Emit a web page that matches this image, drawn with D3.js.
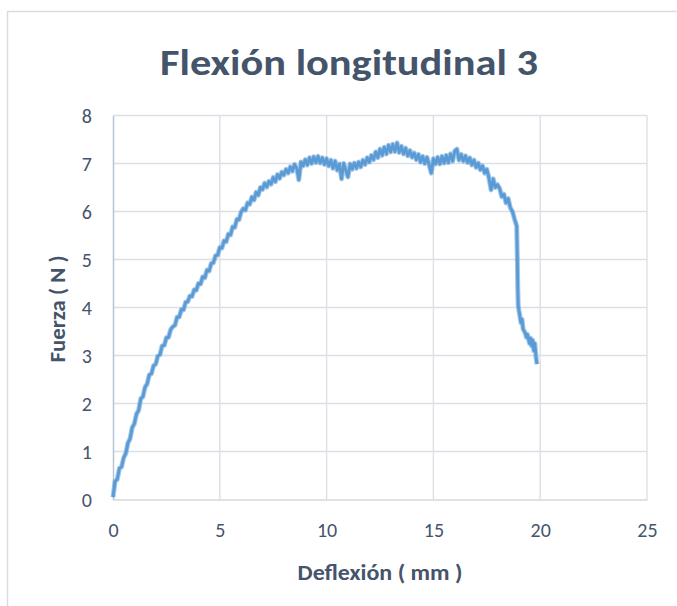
<!DOCTYPE html>
<html>
<head>
<meta charset="utf-8">
<script src="https://cdn.jsdelivr.net/npm/d3@7"></script>
<style>
  html, body { margin: 0; padding: 0; background: #ffffff; }
  svg { display: block; }
  text { font-family: Calibri, Carlito, Lato, "Noto Sans", sans-serif; fill: #44546A; }
</style>
</head>
<body>
<svg id="chart" width="677" height="606"></svg>
<script>
// Flexión longitudinal 3 — ensayo de flexión, fuerza frente a deflexión
const chartTitle = "Flexión longitudinal 3";
const xTitle = "Deflexión ( mm )";
const yTitle = "Fuerza ( N )";
const xTicks = [0, 5, 10, 15, 20, 25];
const yTicks = [0, 1, 2, 3, 4, 5, 6, 7, 8];

// Deflexión (mm)
const deflexion = [
  0.0, 0.1, 0.2, 0.3, 0.4, 0.5, 0.6, 0.7, 0.8, 0.9,
  1.0, 1.1, 1.2, 1.3, 1.4, 1.5, 1.6, 1.7, 1.8, 1.9,
  2.0, 2.1, 2.2, 2.3, 2.4, 2.5, 2.6, 2.7, 2.8, 2.9,
  3.0, 3.1, 3.2, 3.3, 3.4, 3.5, 3.6, 3.7, 3.8, 3.9,
  4.0, 4.1, 4.2, 4.3, 4.4, 4.5, 4.6, 4.7, 4.8, 4.9,
  5.0, 5.1, 5.2, 5.3, 5.4, 5.5, 5.6, 5.7, 5.8, 5.9,
  6.0, 6.1, 6.2, 6.3, 6.4, 6.5, 6.6, 6.7, 6.8, 6.9,
  7.0, 7.1, 7.2, 7.3, 7.4, 7.5, 7.6, 7.7, 7.8, 7.9,
  8.0, 8.1, 8.2, 8.3, 8.4, 8.5, 8.6, 8.7, 8.8, 8.9,
  9.0, 9.1, 9.2, 9.3, 9.4, 9.5, 9.6, 9.7, 9.8, 9.9,
  10.0, 10.1, 10.2, 10.3, 10.4, 10.5, 10.6, 10.7, 10.8, 10.9,
  11.0, 11.1, 11.2, 11.3, 11.4, 11.5, 11.6, 11.7, 11.8, 11.9,
  12.0, 12.1, 12.2, 12.3, 12.4, 12.5, 12.6, 12.7, 12.8, 12.9,
  13.0, 13.1, 13.2, 13.3, 13.4, 13.5, 13.6, 13.7, 13.8, 13.9,
  14.0, 14.1, 14.2, 14.3, 14.4, 14.5, 14.6, 14.7, 14.8, 14.9,
  15.0, 15.1, 15.2, 15.3, 15.4, 15.5, 15.6, 15.7, 15.8, 15.9,
  16.0, 16.1, 16.2, 16.3, 16.4, 16.5, 16.6, 16.7, 16.8, 16.9,
  17.0, 17.1, 17.2, 17.3, 17.4, 17.5, 17.6, 17.7, 17.8, 17.9,
  18.0, 18.1, 18.2, 18.3, 18.4, 18.5, 18.6, 18.7, 18.8, 18.9,
  18.93, 18.95, 18.97, 19.0, 19.05, 19.1, 19.15, 19.2, 19.3, 19.35,
  19.4, 19.5, 19.55, 19.6, 19.65, 19.7, 19.75, 19.8, 19.85
];

// Fuerza (N)
const fuerza = [
  0.05, 0.38, 0.42, 0.65, 0.68, 0.87, 0.96, 1.18, 1.27, 1.50,
  1.58, 1.78, 1.86, 2.10, 2.14, 2.34, 2.41, 2.60, 2.62, 2.79,
  2.82, 2.99, 3.02, 3.20, 3.21, 3.37, 3.38, 3.54, 3.60, 3.63,
  3.80, 3.80, 3.96, 3.95, 4.11, 4.12, 4.24, 4.23, 4.37, 4.36,
  4.50, 4.49, 4.64, 4.62, 4.78, 4.76, 4.92, 4.93, 5.08, 5.09,
  5.25, 5.24, 5.39, 5.37, 5.53, 5.51, 5.68, 5.67, 5.84, 5.83,
  5.99, 6.06, 6.03, 6.18, 6.15, 6.30, 6.24, 6.40, 6.34, 6.50,
  6.46, 6.59, 6.51, 6.63, 6.57, 6.71, 6.62, 6.77, 6.69, 6.82,
  6.76, 6.88, 6.80, 6.93, 6.84, 6.98, 6.90, 6.66, 7.03, 6.95,
  7.08, 6.97, 7.12, 7.00, 7.14, 7.02, 7.15, 7.01, 7.12, 6.98,
  7.10, 6.95, 7.07, 6.90, 7.05, 6.86, 6.99, 6.68, 7.00, 6.86,
  6.72, 6.99, 6.88, 7.01, 6.90, 7.03, 6.93, 7.07, 6.98, 7.12,
  7.03, 7.17, 7.08, 7.24, 7.12, 7.30, 7.17, 7.34, 7.20, 7.38,
  7.24, 7.40, 7.25, 7.43, 7.23, 7.36, 7.20, 7.32, 7.16, 7.27,
  7.13, 7.22, 7.08, 7.19, 7.03, 7.15, 7.00, 7.13, 6.97, 6.80,
  7.10, 6.99, 7.13, 6.99, 7.15, 7.01, 7.17, 7.02, 7.20, 7.05,
  7.26, 7.30, 7.07, 7.19, 7.05, 7.16, 7.02, 7.12, 6.97, 7.07,
  6.92, 7.01, 6.87, 6.95, 6.80, 6.88, 6.70, 6.45, 6.68, 6.50,
  6.56, 6.48, 6.31, 6.36, 6.18, 6.27, 6.08, 6.00, 5.84, 5.70,
  5.00, 4.40, 4.05, 3.95, 3.82, 3.68, 3.75, 3.55, 3.47, 3.38,
  3.44, 3.25, 3.36, 3.20, 3.32, 3.10, 3.25, 2.98, 2.82
];

const svg = d3.select("#chart");
const W = 677, H = 606;
const margin = { left: 113, right: 30, top: 115.5, bottom: 106.5 };
const fontStack = "Calibri, Carlito, Lato, sans-serif";

// Chart area frame (extends past the right and bottom edges)
svg.append("rect")
  .attr("x", 7.5).attr("y", 11.5)
  .attr("width", 720).attr("height", 640)
  .attr("fill", "#ffffff")
  .attr("stroke", "#D9DDE3")
  .attr("stroke-width", 1.5);

const x = d3.scaleLinear().domain([0, 25]).range([margin.left, W - margin.right]);
const y = d3.scaleLinear().domain([0, 8]).range([H - margin.bottom, margin.top]);

// Gridlines
const grid = svg.append("g").attr("class", "grid");
grid.selectAll("line.h")
  .data(yTicks.filter(d => d > 0))
  .join("line")
  .attr("class", "h")
  .attr("x1", x(0)).attr("x2", x(25))
  .attr("y1", d => y(d)).attr("y2", d => y(d))
  .attr("stroke", "#DCE0E6").attr("stroke-width", 1.4);
grid.selectAll("line.v")
  .data(xTicks.filter(d => d > 0))
  .join("line")
  .attr("class", "v")
  .attr("y1", y(0)).attr("y2", y(8))
  .attr("x1", d => x(d)).attr("x2", d => x(d))
  .attr("stroke", "#DCE0E6").attr("stroke-width", 1.4);

// Axes
const xAxis = svg.append("g")
  .attr("transform", `translate(0,${y(0)})`)
  .call(d3.axisBottom(x).tickValues(xTicks).tickSize(0).tickPadding(23));
xAxis.select(".domain").attr("stroke", "#D3D8DF").attr("stroke-width", 1.4);
xAxis.selectAll(".tick text")
  .attr("font-size", 20)
  .style("font-family", fontStack)
  .attr("fill", "#44546A");

const yAxis = svg.append("g")
  .attr("transform", `translate(${x(0)},0)`)
  .call(d3.axisLeft(y).tickValues(yTicks).tickSize(0).tickPadding(21));
yAxis.select(".domain").attr("stroke", "#B9C4D3").attr("stroke-width", 1.5);
yAxis.selectAll(".tick text")
  .attr("font-size", 20)
  .attr("dy", "0.36em")
  .style("font-family", fontStack)
  .attr("fill", "#44546A");

// Data line: a soft wide pass under a firmer core gives the noisy trace its body
const points = deflexion.map((d, i) => [d, fuerza[i]]);
const line = d3.line().x(d => x(d[0])).y(d => y(d[1]));
svg.append("path")
  .datum(points)
  .attr("d", line)
  .attr("fill", "none")
  .attr("stroke", "#5B9BD5")
  .attr("stroke-opacity", 0.55)
  .attr("stroke-width", 5)
  .attr("stroke-linejoin", "round");
svg.append("path")
  .datum(points)
  .attr("d", line)
  .attr("fill", "none")
  .attr("stroke", "#5B9BD5")
  .attr("stroke-width", 2.9)
  .attr("stroke-linejoin", "round");

// Titles
svg.append("text")
  .attr("x", 349).attr("y", 75)
  .attr("text-anchor", "middle")
  .attr("font-size", 37)
  .attr("font-weight", "bold")
  .attr("textLength", 378)
  .attr("lengthAdjust", "spacingAndGlyphs")
  .text(chartTitle);

svg.append("text")
  .attr("x", 380).attr("y", 580)
  .attr("text-anchor", "middle")
  .attr("font-size", 23)
  .attr("font-weight", "bold")
  .attr("textLength", 165)
  .attr("lengthAdjust", "spacingAndGlyphs")
  .text(xTitle);

svg.append("text")
  .attr("transform", "translate(65,309) rotate(-90)")
  .attr("text-anchor", "middle")
  .attr("font-size", 23)
  .attr("font-weight", "bold")
  .attr("textLength", 107)
  .attr("lengthAdjust", "spacingAndGlyphs")
  .text(yTitle);
</script>
</body>
</html>
